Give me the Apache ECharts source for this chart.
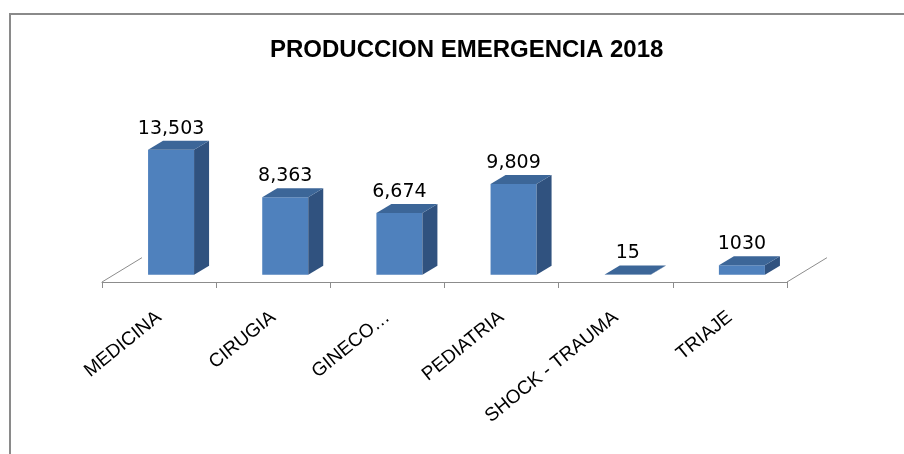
<!DOCTYPE html>
<html>
<head>
<meta charset="utf-8">
<script src="https://cdn.jsdelivr.net/npm/echarts@6/dist/echarts.min.js"></script>
<style>
  html, body { margin: 0; padding: 0; background: #fff; }
  #chart { width: 904px; height: 454px; }
  .frame {
    position: absolute; left: 9px; top: 13px; right: -4px; bottom: -4px;
    border-top: 2px solid #8a8a8a; border-left: 2px solid #8a8a8a;
    pointer-events: none;
  }
</style>
</head>
<body>
<div id="chart"></div>
<div class="frame"></div>
<script>
const categories = ['MEDICINA', 'CIRUGIA', 'GINECO…', 'PEDIATRIA', 'SHOCK - TRAUMA', 'TRIAJE'];
const values = [13503, 8363, 6674, 9809, 15, 1030];
const valueLabels = ['13,503', '8,363', '6,674', '9,809', '15', '1030'];

const FRONT = '#4F81BD';
const SIDE = '#30527F';
const TOP = '#3C6698';

const myChart = echarts.init(document.getElementById('chart'));

// 3D-looking bar: front face, side face, top face, drawn from axis coords
function renderItem(params, api) {
  const i = params.dataIndex;
  const base = api.coord([i, 0]);
  const top = api.coord([i, api.value(1)]);
  const band = api.size([1, 0])[0];
  const w = band * 0.403;
  const fx = band * 0.35, fy = -band * 0.213; // floor depth
  const ox = fx * 0.3, oy = fy * 0.3;          // bar sits a bit back from the front edge
  const dx = 15, dy = -9;                      // bar depth
  const x0 = base[0] - w / 2 + ox;
  const x1 = x0 + w;
  const yb = base[1] + oy;
  const yt = Math.min(top[1] + oy, yb - 0.3);

  const children = [];
  if (i === 0) {
    const lx = base[0] - band / 2;
    children.push({ type: 'line', shape: { x1: lx, y1: base[1], x2: lx + fx, y2: base[1] + fy },
      style: { stroke: '#8c8c8c', lineWidth: 1 } });
  }
  if (i === categories.length - 1) {
    const rx = base[0] + band / 2;
    children.push({ type: 'line', shape: { x1: rx, y1: base[1], x2: rx + fx, y2: base[1] + fy },
      style: { stroke: '#8c8c8c', lineWidth: 1 } });
  }
  children.push(
    { type: 'polygon', shape: { points: [[x0, yb], [x1, yb], [x1, yt], [x0, yt]] },
      style: { fill: FRONT } },
    { type: 'polygon', shape: { points: [[x1, yb], [x1 + dx, yb + dy], [x1 + dx, yt + dy], [x1, yt]] },
      style: { fill: SIDE } },
    { type: 'polygon', shape: { points: [[x0, yt], [x0 + dx, yt + dy], [x1 + dx, yt + dy], [x1, yt]] },
      style: { fill: TOP } },
    { type: 'text', x: (x0 + x1) / 2, y: yt - 21,
      style: { text: valueLabels[i], align: 'center', verticalAlign: 'middle',
        fill: '#000', font: '19px "DejaVu Sans"' } }
  );
  return { type: 'group', children };
}

const option = {
  animation: false,
  title: {
    text: 'PRODUCCION EMERGENCIA 2018',
    left: 265,
    top: 33,
    textStyle: { fontFamily: '"Liberation Sans", Arial', fontWeight: 'bold', fontSize: 24, color: '#000' },
  },
  grid: { left: 102, right: 117, top: 97, bottom: 172 },
  xAxis: {
    type: 'category',
    data: categories,
    axisLine: { lineStyle: { color: '#8c8c8c', width: 1 } },
    axisTick: { show: true, length: 6, lineStyle: { color: '#8c8c8c' } },
    axisLabel: {
      interval: 0,
      rotate: 39,
      margin: 33,
      color: '#000',
      fontSize: 19,
      fontFamily: '"Liberation Sans", Arial',
    },
  },
  yAxis: { type: 'value', min: 0, max: 20000, show: false },
  series: [
    {
      type: 'custom',
      renderItem: renderItem,
      data: values.map((v, i) => [i, v]),
      clip: false,
    },
  ],
};

myChart.setOption(option);
</script>
</body>
</html>
